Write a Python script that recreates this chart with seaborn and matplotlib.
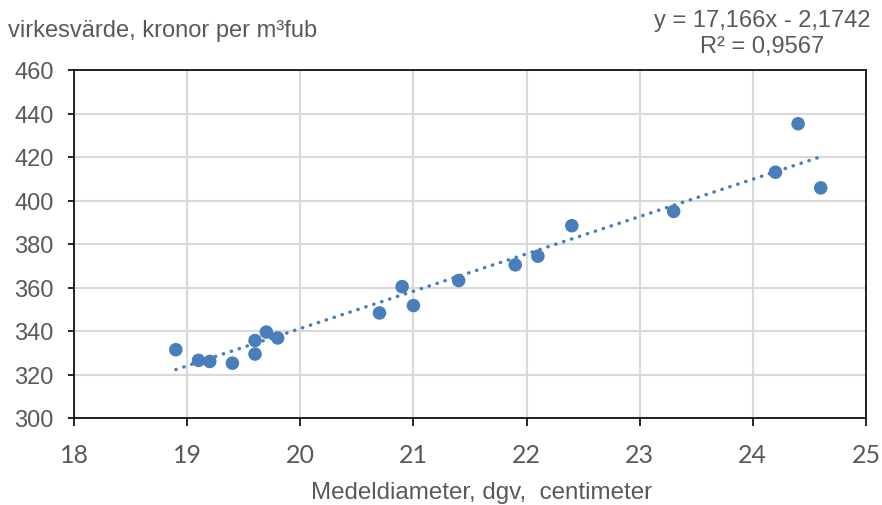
import numpy as np
import pandas as pd
import matplotlib
matplotlib.use("Agg")
import matplotlib.pyplot as plt
import seaborn as sns

# Mean diameter (dgv, cm) and timber value (SEK per m3fub)
diameter = [18.9, 19.1, 19.2, 19.4, 19.6, 19.6, 19.7, 19.8, 20.7, 20.9,
            21.0, 21.4, 21.9, 22.1, 22.4, 23.3, 24.2, 24.4, 24.6]
value = [331.4, 326.5, 326.0, 325.2, 329.4, 335.6, 339.5, 336.8, 348.3, 360.4,
         351.7, 363.2, 370.4, 374.4, 388.4, 395.0, 413.0, 435.3, 405.8]

# Linear trend line coefficients
slope = 17.166
intercept = -2.1742
r_squared = 0.9567

x_ticks = [18, 19, 20, 21, 22, 23, 24, 25]
y_ticks = [300, 320, 340, 360, 380, 400, 420, 440, 460]

sns.set_theme(style="white")
plt.rcParams["font.family"] = ["Liberation Sans", "DejaVu Sans"]

text_color = "#595959"
blue = "#4a7ebb"

fig = plt.figure(figsize=(8.82, 5.06), dpi=100)
ax = fig.add_axes([74 / 882, 1 - 419 / 506, (866 - 74) / 882, (419 - 71) / 506])

df = pd.DataFrame({"d": diameter, "v": value})
trend_x = np.array([min(diameter), max(diameter)])
trend = pd.DataFrame({"d": trend_x, "v": slope * trend_x + intercept})

sns.lineplot(data=trend, x="d", y="v", ax=ax, color=blue, linewidth=2.5,
             linestyle=(0, (0.1, 2.3)), dash_capstyle="round", zorder=2)
sns.scatterplot(data=df, x="d", y="v", ax=ax, color=blue, s=95,
                edgecolor="none", zorder=3)

ax.set_xlim(18, 25)
ax.set_ylim(300, 460)
ax.set_xticks(x_ticks)
ax.set_yticks(y_ticks)
ax.set_xticklabels([str(t) for t in x_ticks], fontfamily="Lato", fontsize=18)
ax.set_yticklabels([str(t) for t in y_ticks], fontsize=17)
ax.grid(True, color="#d9d9d9", linewidth=1.5)
ax.set_axisbelow(True)
for side in ["left", "bottom", "top", "right"]:
    ax.spines[side].set_visible(True)
    ax.spines[side].set_color("black")
    ax.spines[side].set_linewidth(1.2)
ax.tick_params(axis="both", which="major", direction="out", width=1.2,
               color="black", labelcolor=text_color, left=True, bottom=True)
ax.tick_params(axis="y", length=4.5, pad=10)
ax.tick_params(axis="x", length=6, pad=12)
ax.set_xlabel("")
ax.set_ylabel("")

fig.text(8 / 882, 1 - 31 / 506, "virkesvärde, kronor per m³fub",
         fontsize=17, color=text_color, ha="left", va="center")
fig.text(482 / 882, 1 - 493 / 506, "Medeldiameter, dgv,  centimeter",
         fontsize=17.4, color=text_color, ha="center", va="center")
eq = f"y = {slope:.3f}x - {abs(intercept):.4f}".replace(".", ",")
r2 = f"R² = {r_squared:.4f}".replace(".", ",")
fig.text(762 / 882, 1 - 21 / 506, eq, fontsize=17, color=text_color,
         ha="center", va="center")
fig.text(762 / 882, 1 - 47 / 506, r2, fontsize=17, color=text_color,
         ha="center", va="center")

fig.savefig("out.png", dpi=100)
